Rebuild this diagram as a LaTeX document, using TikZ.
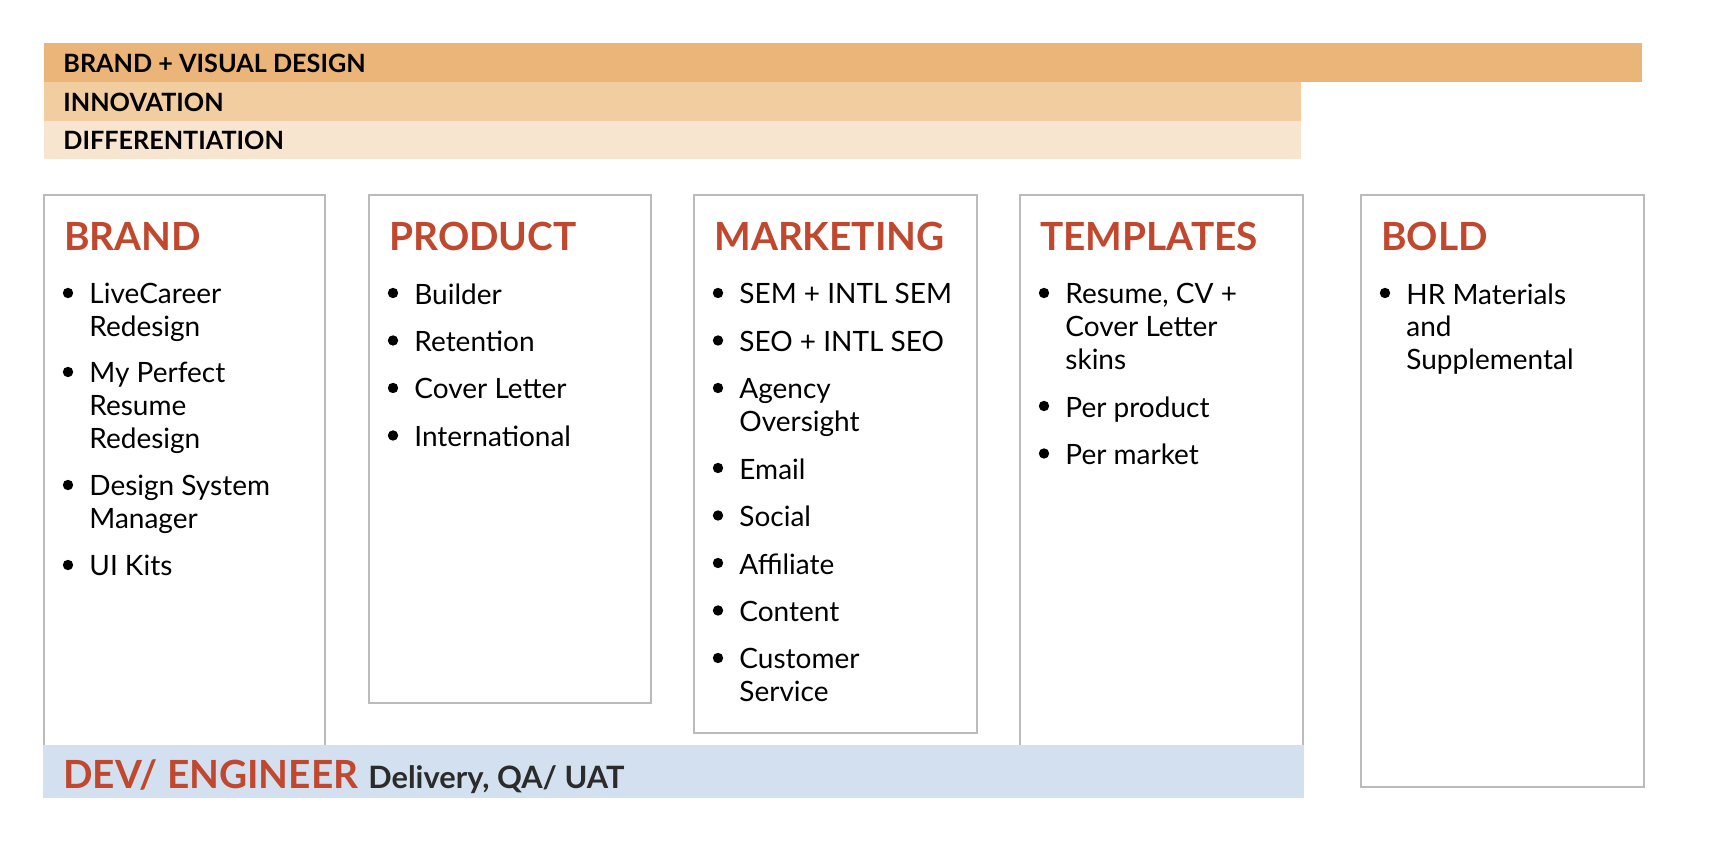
\documentclass[tikz,border=0pt]{standalone}
\usepackage{fontspec}
\setmainfont{Lato}
\usetikzlibrary{positioning}

\definecolor{visband}{RGB}{235,180,120}
\definecolor{innoband}{RGB}{242,205,160}
\definecolor{diffband}{RGB}{248,229,208}
\definecolor{devband}{RGB}{211,224,239}
\definecolor{headred}{RGB}{192,72,46}
\definecolor{cardgray}{RGB}{187,187,187}
\definecolor{darktext}{RGB}{43,43,43}

\tikzset{
  card/.style={draw=cardgray, line width=0.8pt, anchor=north west, inner sep=0pt},
  band/.style={anchor=north west, inner sep=0pt, minimum height=19.5pt},
  bandlabel/.style={font=\bfseries\fontsize{12.6}{14}\selectfont, inner sep=0pt, anchor=west},
  head/.style={font=\bfseries\fontsize{19.4}{23}\selectfont, text=headred, inner sep=0pt, anchor=base west},
  dot/.style={circle, fill=black, inner sep=0pt, minimum size=5.2pt, anchor=center, xshift=-10.5pt, yshift=-5pt},
  entry/.style={font=\fontsize{14}{16.35}\selectfont, align=left, inner sep=0pt, anchor=north west, label={[dot]north west:}},
}

\begin{document}
\begin{tikzpicture}[x=0.5pt, y=-0.5pt]

	\useasboundingbox (0,0) rectangle (1710,854);

	% bands on top
	\node[band, fill=visband, minimum width=799pt] (vis) at (44,43) {};
	\node[band, fill=innoband, minimum width=628.5pt] (inno) at (44,82) {};
	\node[band, fill=diffband, minimum width=628.5pt, minimum height=19pt] (diff) at (44,121) {};
	\node[bandlabel, right=9.5pt of vis.west] (vis-t) {BRAND + VISUAL DESIGN};
	\node[bandlabel, right=9.5pt of inno.west] (inno-t) {INNOVATION};
	\node[bandlabel, right=9.5pt of diff.west] (diff-t) {DIFFERENTIATION};

	% columns
	\node[card, minimum width=140.5pt, minimum height=288pt] (brand) at (43,194) {};
	\node[card, minimum width=141pt, minimum height=254pt] (product) at (368,194) {};
	\node[card, minimum width=141.5pt, minimum height=269pt] (marketing) at (693,194) {};
	\node[card, minimum width=141.5pt, minimum height=288pt] (templates) at (1019,194) {};
	\node[card, minimum width=141.5pt, minimum height=296pt] (bold) at (1360,194) {};

	\node[head] (brand-h) at (64,251) {BRAND};
	\node[head] (product-h) at (389,251) {PRODUCT};
	\node[head] (marketing-h) at (714,251) {MARKETING};
	\node[head] (templates-h) at (1040,251) {TEMPLATES};
	\node[head] (bold-h) at (1381,251) {BOLD};

	\node[entry] (brand-1) at (89,283) {LiveCareer\\Redesign};
	\node[entry] (brand-2) at (89,362) {My Perfect\\Resume\\Redesign};
	\node[entry] (brand-3) at (89,475) {Design System\\Manager};
	\node[entry] (brand-4) at (89,555) {UI Kits};

	\node[entry] (product-1) at (414,283) {Builder};
	\node[entry] (product-2) at (414,330.5) {Retention};
	\node[entry] (product-3) at (414,378) {Cover Letter};
	\node[entry] (product-4) at (414,425.5) {International};

	\node[entry] (marketing-1) at (739,283) {SEM + INTL SEM};
	\node[entry] (marketing-2) at (739,330.5) {SEO + INTL SEO};
	\node[entry] (marketing-3) at (739,378) {Agency\\Oversight};
	\node[entry] (marketing-4) at (739,458) {Email};
	\node[entry] (marketing-5) at (739,505.5) {Social};
	\node[entry] (marketing-6) at (739,553) {Affiliate};
	\node[entry] (marketing-7) at (739,600.5) {Content};
	\node[entry] (marketing-8) at (739,648) {Customer\\Service};

	\node[entry] (templates-1) at (1065,283) {Resume, CV +\\Cover Letter\\skins};
	\node[entry] (templates-2) at (1065,396) {Per product};
	\node[entry] (templates-3) at (1065,443.5) {Per market};

	\node[entry] (bold-1) at (1406,283) {HR Materials\\and\\Supplemental};

	% delivery band
	\node[band, fill=devband, minimum width=630.5pt, minimum height=26.5pt] (dev) at (43,745) {};
	\node[inner sep=0pt, anchor=base west] (dev-t) at (63,789)
		{\textcolor{headred}{\bfseries\fontsize{19.4}{23}\selectfont DEV/ ENGINEER}\hspace{5pt}%
		 \textcolor{darktext}{\bfseries\fontsize{15.4}{18}\selectfont Delivery, QA/ UAT}};

\end{tikzpicture}
\end{document}
